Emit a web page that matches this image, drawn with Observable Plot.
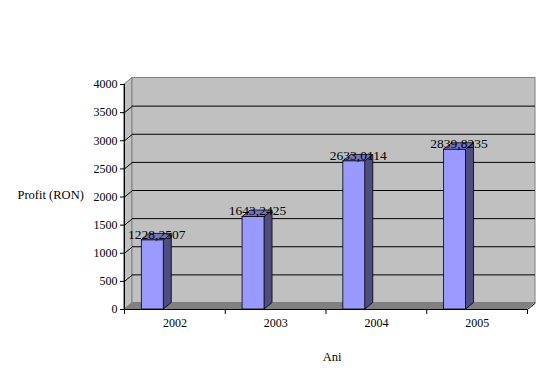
<!DOCTYPE html>
<html>
<head>
<meta charset="utf-8">
<script src="https://cdn.jsdelivr.net/npm/d3@7"></script>
<script src="https://cdn.jsdelivr.net/npm/@observablehq/plot@0.6"></script>
<style>
  html, body { margin: 0; padding: 0; background: #fff; }
  #chart { width: 554px; height: 379px; }
</style>
</head>
<body>
<div id="chart"></div>
<script>
// ---- Data ----
const years = ["2002", "2003", "2004", "2005"];
const profit = [1228.2507, 1643.2425, 2633.0114, 2839.8235];
const yTicks = [0, 500, 1000, 1500, 2000, 2500, 3000, 3500, 4000];
const yLabel = "Profit (RON)";
const xLabel = "Ani";

// ---- Layout constants (3D depth, bar placement within each category) ----
const W = 554, H = 379;
const mL = 124, mR = 27, mT = 84, mB = 70;
const pxPerX = (W - mL - mR) / years.length;
const pxPerY = (H - mT - mB) / 4000;
const DX = 8 / pxPerX;        // depth offset in x units
const DY = 6.5 / pxPerY;      // depth offset in y units
const XL = 0.172, XR = 0.39;  // bar front face within a category

const sideRows = years.flatMap((yr, i) => [
  {yr, x: i + XR, y1: 0, y2: profit[i]},
  {yr, x: i + XR + DX, y1: DY, y2: profit[i] + DY}
]);
const topRows = years.flatMap((yr, i) => [
  {yr, y: profit[i], x1: i + XL, x2: i + XR},
  {yr, y: profit[i] + DY, x1: i + XL + DX, x2: i + XR + DX}
]);
const frontRows = years.map((yr, i) => ({yr, x1: i + XL, x2: i + XR, v: profit[i]}));
const n = years.length;

const chart = Plot.plot({
  width: W, height: H,
  marginLeft: mL, marginRight: mR, marginTop: mT, marginBottom: mB,
  x: {type: "linear", domain: [0, n], axis: null},
  y: {type: "linear", domain: [0, 4000], axis: null},
  style: {fontFamily: "'Liberation Serif', 'Times New Roman', serif", fontSize: "12px", background: "#fff", color: "#000", overflow: "visible"},
  marks: [
    // left side wall
    Plot.areaY([{x: 0, y1: 0, y2: 4000}, {x: DX, y1: DY, y2: 4000 + DY}],
      {x: "x", y1: "y1", y2: "y2", fill: "#c0c0c0", stroke: "#808080", strokeWidth: 1}),
    // back wall
    Plot.rect([0], {x1: DX, x2: n + DX, y1: DY, y2: 4000 + DY, fill: "#c0c0c0", stroke: "#808080", strokeWidth: 1}),
    // floor
    Plot.areaX([{y: 0, x1: 0, x2: n}, {y: DY, x1: DX, x2: n + DX}],
      {y: "y", x1: "x1", x2: "x2", fill: "#808080"}),
    Plot.link([0], {x1: n, y1: 0, x2: n + DX, y2: DY, stroke: "#000"}),
    // gridlines on back wall
    Plot.ruleY(yTicks.slice(1, -1), {y: d => d + DY, x1: DX, x2: n + DX, stroke: "#000", strokeWidth: 1}),
    // gridlines on left wall
    Plot.link(yTicks.slice(1, -1), {x1: 0, y1: d => d, x2: DX, y2: d => d + DY, stroke: "#000"}),
    // bars: side faces
    Plot.areaY(sideRows, {x: "x", y1: "y1", y2: "y2", z: "yr", fill: "#4d4d80", stroke: "#000", strokeWidth: 0.8}),
    // bars: top faces
    Plot.areaX(topRows, {y: "y", x1: "x1", x2: "x2", z: "yr", fill: "#7373c0", stroke: "#000", strokeWidth: 0.8}),
    // bars: front faces
    Plot.rect(frontRows, {x1: "x1", x2: "x2", y1: 0, y2: "v", fill: "#9999ff", stroke: "#000", strokeWidth: 0.8}),
    // axis lines
    Plot.ruleX([0], {y1: 0, y2: 4000, stroke: "#000"}),
    Plot.ruleY([0], {x1: 0, x2: n, stroke: "#000"}),
    // y axis ticks and labels
    Plot.axisY({ticks: yTicks, tickSize: 4, tickPadding: 3, fontSize: 12, tickFormat: d => String(d), stroke: "#000", fill: "#000"}),
    // x axis ticks at category boundaries (no labels)
    Plot.axisX({ticks: d3.range(n + 1), tickSize: 5, tickFormat: () => "", stroke: "#000"}),
    // category labels
    Plot.text(years, {x: (d, i) => i + 0.5, frameAnchor: "bottom", dy: 17, text: d => d, fontSize: 12, fill: "#000"}),
    // value labels
    Plot.text(profit, {x: (d, i) => i + (XL + XR) / 2 + DX / 2, y: d => d, dy: -6,
      text: d => d.toFixed(4).replace(".", ","), fontSize: 13.5, fill: "#000"}),
    // axis titles
    Plot.text([yLabel], {frameAnchor: "left", y: 2000, dx: -107, dy: -2, textAnchor: "start", fontSize: 12.5, fill: "#000"}),
    Plot.text([xLabel], {frameAnchor: "bottom", dx: 6, dy: 51, fontSize: 12.5, fill: "#000"})
  ]
});
document.getElementById("chart").appendChild(chart);
</script>
</body>
</html>
